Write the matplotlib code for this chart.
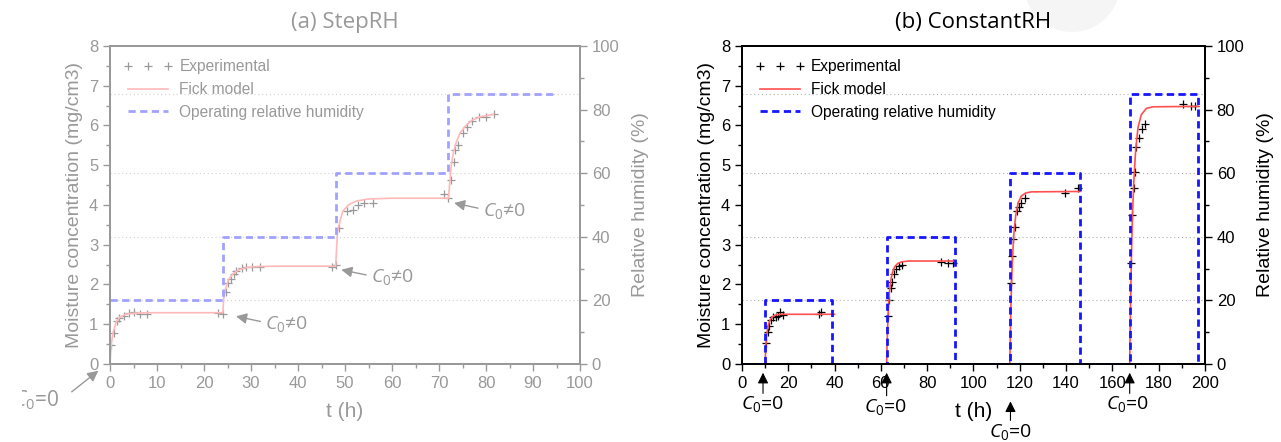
import numpy as np
import matplotlib.pyplot as plt
from matplotlib.colors import to_rgb
from matplotlib.ticker import MultipleLocator
from matplotlib.patches import Circle
from matplotlib.transforms import Bbox

plt.rcParams['font.family'] = ['Liberation Sans', 'DejaVu Sans']
plt.rcParams['mathtext.fontset'] = 'custom'
plt.rcParams['mathtext.it'] = 'Open Sans:italic'
plt.rcParams['mathtext.rm'] = 'Open Sans'

# ---- (a) StepRH ----
step_t_exp = [0.2, 0.85, 1.4, 2.0, 3.0, 4.0, 5.0, 6.4, 7.9, 22.9, 24.0,
              24.6, 25.1, 25.7, 26.3, 26.9, 28.0, 29.0, 30.1, 32.0, 47.2, 48.1,
              48.8, 50.4, 51.6, 52.8, 54.1, 56.0, 71.1, 72.0,
              72.5, 73.1, 73.5, 74.1, 75.1, 75.9, 77.1, 78.5, 80.0, 81.6]
step_c_exp = [0.49, 0.78, 1.09, 1.16, 1.21, 1.29, 1.32, 1.26, 1.26, 1.29, 1.26,
              1.80, 2.03, 2.14, 2.26, 2.35, 2.42, 2.44, 2.45, 2.43, 2.45, 2.48,
              3.43, 3.85, 3.88, 3.99, 4.04, 4.06, 4.28, 4.17,
              4.63, 5.09, 5.39, 5.51, 5.82, 5.95, 6.12, 6.21, 6.22, 6.28]

step_t_fick = [0, 0.25, 0.7, 1.3, 2.1, 3.3, 5.3, 8, 24,
               24.2, 24.6, 25.2, 26.1, 27.4, 29.1, 31.2, 35, 48,
               48.2, 48.4, 48.9, 49.5, 50.7, 52.4, 55, 60, 72,
               72.3, 72.6, 73.1, 73.7, 74.5, 75.8, 77.1, 78.8, 81.6]
step_c_fick = [0, 0.5, 0.82, 1.05, 1.18, 1.25, 1.28, 1.29, 1.29,
               1.66, 1.91, 2.12, 2.26, 2.37, 2.43, 2.45, 2.46, 2.46,
               2.91, 3.33, 3.58, 3.84, 4.0, 4.1, 4.15, 4.17, 4.17,
               4.59, 5.0, 5.34, 5.59, 5.82, 6.01, 6.14, 6.22, 6.28]

step_t_rh = [0, 24, 24, 48, 48, 72, 72, 95]
step_rh = [20, 20, 40, 40, 60, 60, 85, 85]

# ---- (b) ConstantRH ----
const_t_exp = [10.6, 11.1, 11.7, 12.5, 13.6, 14.6, 15.6, 16.5, 17.8, 33.2, 34.2,
               63.0, 63.5, 64.2, 64.8, 65.6, 66.7, 67.8, 69.0, 86.0, 89.0, 91.0,
               116.3, 116.7, 117.2, 117.8, 118.8, 119.7, 120.6, 122.2, 139.6, 145.1,
               168.2, 168.7, 169.2, 169.6, 170.4, 171.4, 172.7, 174.1, 190.6, 193.9, 195.6]
const_c_exp = [0.54, 0.80, 0.96, 1.10, 1.19, 1.18, 1.21, 1.31, 1.22, 1.26, 1.30,
               1.20, 1.60, 1.90, 2.05, 2.26, 2.40, 2.46, 2.49, 2.56, 2.53, 2.54,
               2.03, 2.71, 3.15, 3.44, 3.84, 3.94, 4.04, 4.18, 4.30, 4.43,
               2.55, 3.75, 4.42, 4.83, 5.45, 5.69, 5.90, 6.04, 6.53, 6.50, 6.50]

const_t_fick = [10, 10.3, 10.7, 11.2, 11.8, 12.6, 13.6, 15, 17, 20, 40, np.nan,
                62.5, 62.8, 63.2, 63.7, 64.3, 65.0, 66.0, 67.3, 69, 72, 92, np.nan,
                115.7, 116.0, 116.4, 116.9, 117.5, 118.3, 119.3, 120.6, 122.5, 125, 146, np.nan,
                167.5, 167.8, 168.2, 168.7, 169.3, 170.1, 171.1, 172.5, 174.7, 177.6, 197]
const_c_fick = [0, 0.45, 0.73, 0.93, 1.07, 1.15, 1.21, 1.24, 1.25, 1.25, 1.25, np.nan,
                0, 0.7, 1.35, 1.8, 2.1, 2.3, 2.45, 2.53, 2.57, 2.59, 2.59, np.nan,
                0, 0.9, 1.9, 2.7, 3.3, 3.75, 4.05, 4.22, 4.30, 4.33, 4.34, np.nan,
                0, 1.25, 2.55, 3.75, 4.6, 5.4, 5.95, 6.27, 6.43, 6.47, 6.48]

const_t_rh = [0, 10, 10, 39, 39, 62.5, 62.5, 92, 92, 116, 116, 146, 146, 167.5, 167.5, 197, 197]
const_rh = [0, 0, 20, 20, 0, 0, 40, 40, 0, 0, 60, 60, 0, 0, 85, 85, 0]

rh_levels = [20, 40, 60, 85]

# arrows: (head t, head c, tail t, tail c, text t, text c)
step_notes = [(26.8, 1.20, 32.0, 1.07, 33.0, 1.0, '$C_0$≠0'),
              (49.2, 2.37, 54.5, 2.24, 55.6, 2.2, '$C_0$≠0'),
              (73.2, 4.05, 78.3, 3.92, 79.4, 3.84, '$C_0$≠0')]
const_notes = [(9.1, -0.22, 9.1, -0.74, 8.7, -1.0),
               (62.5, -0.22, 62.5, -0.80, 62.0, -1.09),
               (116, -0.94, 116, -1.42, 116, -1.72),
               (167.5, -0.22, 167.5, -0.74, 166.6, -1.0)]


def fade(c, k):
    r = np.array(to_rgb(c))
    return tuple(1 - (1 - r) * k)


def draw_panel(ax, title, t_exp, c_exp, t_fick, c_fick, t_rh, rh, xmax, xminor, k):
    ink = fade('black', k)
    red = fade('#ff5050', k)
    blue = fade('#1515ff', k)

    ax2 = ax.twinx()
    for lvl in rh_levels:
        ax2.axhline(lvl, color=fade('#b0b0b0', min(k + 0.2, 1)), lw=0.8,
                    linestyle=(0, (1, 2.5)), zorder=0)
    ax.plot(t_exp, c_exp, '+', color=ink, ms=5.5, mew=0.9, label='Experimental')
    ax.plot(t_fick, c_fick, '-', color=red, lw=1.2, label='Fick model')
    ax2.plot(t_rh, rh, color=blue, lw=2.0, linestyle=(0, (2.6, 1.6)),
             label='Operating relative humidity')

    ax.set_xlim(0, xmax)
    ax.set_ylim(0, 8)
    ax2.set_ylim(0, 100)
    ax.xaxis.set_major_locator(MultipleLocator(xmax / 10))
    ax.xaxis.set_minor_locator(MultipleLocator(xminor))
    ax.yaxis.set_major_locator(MultipleLocator(1))
    ax.yaxis.set_minor_locator(MultipleLocator(0.5))
    ax2.yaxis.set_major_locator(MultipleLocator(20))
    ax2.yaxis.set_minor_locator(MultipleLocator(10))
    for a in (ax, ax2):
        a.tick_params(which='both', direction='out', colors=ink, labelsize=12,
                      width=1.0)
        a.tick_params(which='major', length=5)
        a.tick_params(which='minor', length=3)
        for s in a.spines.values():
            s.set_color(ink)
            s.set_linewidth(1.3)

    ax.set_xlabel('t (h)', fontsize=15, color=ink, labelpad=8)
    ax.set_ylabel('Moisture concentration (mg/cm3)', fontsize=14, color=ink)
    ax2.set_ylabel('Relative humidity (%)', fontsize=14, color=ink, labelpad=9)
    ax.set_title(title, fontsize=16, color=ink, family=['Open Sans', 'DejaVu Sans'],
                 pad=13)

    h1, l1 = ax.get_legend_handles_labels()
    h2, l2 = ax2.get_legend_handles_labels()
    leg = ax2.legend(h1 + h2, l1 + l2, loc='upper left', frameon=False,
                     fontsize=11.2, numpoints=3, handlelength=3.2,
                     handletextpad=0.4, borderaxespad=0.55, borderpad=0.3,
                     labelspacing=0.5)
    for txt in leg.get_texts():
        txt.set_color(ink)
    return ax2, ink


fig = plt.figure(figsize=(12.81, 4.42), dpi=100)

# pale disc behind the right-hand title
fig.patches.append(Circle((1072, 458), 48, transform=None, facecolor='#f5f5f5',
                          edgecolor='none', zorder=-5))

ax_a = fig.add_axes([0.0859, 0.1765, 0.3669, 0.7195])
ax_b = fig.add_axes([0.5792, 0.1765, 0.3614, 0.7195])

_, ink_a = draw_panel(ax_a, '(a) StepRH', step_t_exp, step_c_exp, step_t_fick,
                      step_c_fick, step_t_rh, step_rh, 100, 5, 0.4)
_, ink_b = draw_panel(ax_b, '(b) ConstantRH', const_t_exp, const_c_exp, const_t_fick,
                      const_c_fick, const_t_rh, const_rh, 200, 10, 1.0)

note_font = dict(fontsize=14, family=['Open Sans', 'DejaVu Sans'])

for ht, hc, tt, tc, xt, yc, s in step_notes:
    ax_a.annotate('', xy=(ht, hc), xytext=(tt, tc),
                  arrowprops=dict(arrowstyle='-|>', color=ink_a, lw=1.0,
                                  mutation_scale=16, shrinkA=0, shrinkB=0))
    ax_a.text(xt, yc, s, color=ink_a, ha='left', va='center', **note_font)

ax_a.annotate('', xy=(-2.5, -0.17), xytext=(-8.15, -0.70), annotation_clip=False,
              arrowprops=dict(arrowstyle='-|>', color=ink_a, lw=1.0,
                              mutation_scale=16, shrinkA=0, shrinkB=0))
low_note = ax_a.text(-10.8, -0.9, '$C_0$=0', color=ink_a, ha='right', va='center',
                     fontsize=15, family=['Open Sans', 'DejaVu Sans'])
low_note.set_clip_box(Bbox([[22, 0], [1281, 442]]))
low_note.set_clip_on(True)

for ht, hc, tt, tc, xt, yc in const_notes:
    ax_b.annotate('', xy=(ht, hc), xytext=(tt, tc), annotation_clip=False,
                  arrowprops=dict(arrowstyle='-|>', color=ink_b, lw=0.8,
                                  mutation_scale=16, shrinkA=0, shrinkB=0))
    ax_b.text(xt, yc, '$C_0$=0', color=ink_b, ha='center', va='center',
              clip_on=False, **note_font)

fig.savefig('out.png', dpi=100)
